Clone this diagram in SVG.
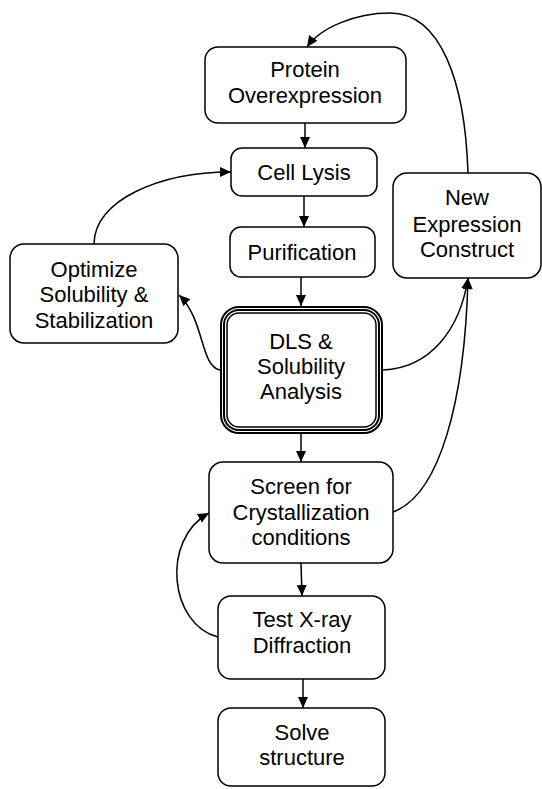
<svg xmlns="http://www.w3.org/2000/svg" width="542" height="789" viewBox="0 0 542 789">
<defs>
<marker id="ah" markerUnits="userSpaceOnUse" markerWidth="11" markerHeight="10" refX="11" refY="5" orient="auto" viewBox="0 0 11 10">
<path d="M0,0 L11,5 L0,10 z" fill="#000"/>
</marker>
<style>
.box{fill:#fff;stroke:#000;stroke-width:1.5}
.t{font-family:"Liberation Sans",Arial,sans-serif;font-size:22px;fill:#000;text-anchor:middle}
.c{fill:none;stroke:#000;stroke-width:1.5;marker-end:url(#ah)}
</style>
</defs>
<rect width="542" height="789" fill="#fff"/>
<g id="connectors">
<path class="c" d="M305,123 L305,148"/>
<path class="c" d="M304,196 L304,227"/>
<path class="c" d="M301,277 L301,306"/>
<path class="c" d="M301,434 L301,462"/>
<path class="c" d="M301,563 L302,596"/>
<path class="c" d="M303,679 L303,708"/>
<path class="c" d="M94,244 C94,200 160,172 231,172"/>
<path class="c" d="M220,370 C200,366 205,320 179,295"/>
<path class="c" d="M383,370 C430,368 460,330 468,278"/>
<path class="c" d="M393,512 C440,495 465,400 468,278"/>
<path class="c" d="M468,173 C465,80 440,13 390,13 C355,13 320,28 307,47"/>
<path class="c" d="M218,637 C170,625 160,540 209,513"/>
</g>
<g id="protein">
<rect class="box" x="205" y="47" width="201" height="76" rx="13"/>
<text class="t" x="305" y="77">Protein</text>
<text class="t" x="305" y="103">Overexpression</text>
</g>
<g id="lysis">
<rect class="box" x="231" y="148" width="146" height="48" rx="11"/>
<text class="t" x="304" y="180">Cell Lysis</text>
</g>
<g id="purification">
<rect class="box" x="230" y="227" width="145" height="50" rx="11"/>
<text class="t" x="302" y="260">Purification</text>
</g>
<g id="optimize">
<rect class="box" x="10" y="244" width="168" height="99" rx="14"/>
<text class="t" x="94" y="277">Optimize</text>
<text class="t" x="94" y="302">Solubility &amp;</text>
<text class="t" x="94" y="328">Stabilization</text>
</g>
<g id="dls">
<rect x="221" y="307" width="161" height="126" rx="18" fill="#fff" stroke="#000" stroke-width="2"/>
<rect x="224" y="310" width="155" height="120" rx="15" fill="none" stroke="#000" stroke-width="2"/>
<rect x="227" y="313" width="149" height="114" rx="12" fill="none" stroke="#000" stroke-width="1.5"/>
<text class="t" x="301" y="349">DLS &amp;</text>
<text class="t" x="301" y="374">Solubility</text>
<text class="t" x="301" y="399">Analysis</text>
</g>
<g id="newconstruct">
<rect class="box" x="393" y="173" width="148" height="105" rx="14"/>
<text class="t" x="467" y="205">New</text>
<text class="t" x="467" y="232">Expression</text>
<text class="t" x="467" y="257">Construct</text>
</g>
<g id="screen">
<rect class="box" x="209" y="462" width="184" height="101" rx="14"/>
<text class="t" x="301" y="494">Screen for</text>
<text class="t" x="301" y="520">Crystallization</text>
<text class="t" x="301" y="545">conditions</text>
</g>
<g id="xray">
<rect class="box" x="218" y="596" width="167" height="83" rx="13"/>
<text class="t" x="302" y="627">Test X-ray</text>
<text class="t" x="302" y="653">Diffraction</text>
</g>
<g id="solve">
<rect class="box" x="218" y="708" width="167" height="78" rx="13"/>
<text class="t" x="302" y="740">Solve</text>
<text class="t" x="302" y="765">structure</text>
</g>
</svg>
